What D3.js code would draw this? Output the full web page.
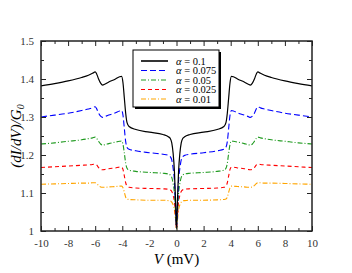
<!DOCTYPE html>
<html>
<head>
<meta charset="utf-8">
<script src="https://cdn.jsdelivr.net/npm/d3@7"></script>
<style>
  body { margin: 0; background: #fff; }
  svg text { font-family: "Liberation Serif", "DejaVu Serif", serif; }
</style>
</head>
<body>
<div id="chart"></div>
<script>
var width = 352;
var height = 273;

// bias voltage (mV)
var voltage = [-10, -9, -8, -7, -6.5, -6.2, -6.0, -5.9, -5.75, -5.6, -5.45, -5.3, -5.0, -4.5, -4.2, -4.05,
  -3.95, -3.85, -3.75, -3.65, -3.5, -3.0, -2.0, -1.0, -0.6, -0.45, -0.35, -0.25, -0.15, -0.08, -0.03, 0,
  0.03, 0.08, 0.15, 0.25, 0.35, 0.45, 0.6, 1.0, 2.0, 3.0, 3.5, 3.65, 3.75, 3.85, 3.95,
  4.05, 4.2, 4.5, 5.0, 5.3, 5.45, 5.6, 5.75, 5.9, 6.0, 6.2, 6.5, 7, 8, 9, 10];

var g010 = [1.382, 1.388, 1.395, 1.404, 1.410, 1.415, 1.419, 1.414, 1.400, 1.389, 1.384, 1.386, 1.392, 1.400, 1.406, 1.407,
  1.390, 1.350, 1.310, 1.285, 1.275, 1.267, 1.260, 1.254, 1.248, 1.243, 1.232, 1.205, 1.155, 1.090, 1.035, 1.008,
  1.035, 1.090, 1.155, 1.205, 1.232, 1.243, 1.248, 1.254, 1.260, 1.267, 1.275, 1.285, 1.310, 1.350, 1.390,
  1.407, 1.406, 1.400, 1.392, 1.386, 1.384, 1.389, 1.400, 1.414, 1.419, 1.415, 1.410, 1.404, 1.395, 1.388, 1.382];

var g0075 = [1.300, 1.305, 1.310, 1.317, 1.321, 1.324, 1.327, 1.322, 1.310, 1.302, 1.299, 1.301, 1.305, 1.311, 1.316, 1.317,
  1.305, 1.270, 1.235, 1.220, 1.215, 1.211, 1.206, 1.202, 1.199, 1.195, 1.187, 1.165, 1.130, 1.072, 1.028, 1.008,
  1.028, 1.072, 1.130, 1.165, 1.187, 1.195, 1.199, 1.202, 1.206, 1.211, 1.215, 1.220, 1.235, 1.270, 1.305,
  1.317, 1.316, 1.311, 1.305, 1.301, 1.299, 1.302, 1.310, 1.322, 1.327, 1.324, 1.321, 1.317, 1.310, 1.305, 1.300];

var g005 = [1.229, 1.232, 1.236, 1.240, 1.243, 1.245, 1.247, 1.244, 1.236, 1.229, 1.226, 1.227, 1.230, 1.234, 1.236, 1.237,
  1.228, 1.205, 1.178, 1.165, 1.160, 1.157, 1.154, 1.152, 1.150, 1.147, 1.141, 1.125, 1.098, 1.055, 1.022, 1.006,
  1.022, 1.055, 1.098, 1.125, 1.141, 1.147, 1.150, 1.152, 1.154, 1.157, 1.160, 1.165, 1.178, 1.205, 1.228,
  1.237, 1.236, 1.234, 1.230, 1.227, 1.226, 1.229, 1.236, 1.244, 1.247, 1.245, 1.243, 1.240, 1.236, 1.232, 1.229];

var g0025 = [1.167, 1.169, 1.171, 1.173, 1.174, 1.175, 1.176, 1.174, 1.167, 1.162, 1.161, 1.162, 1.164, 1.166, 1.168, 1.168,
  1.162, 1.145, 1.127, 1.118, 1.115, 1.113, 1.112, 1.111, 1.110, 1.108, 1.104, 1.094, 1.075, 1.042, 1.017, 1.005,
  1.017, 1.042, 1.075, 1.094, 1.104, 1.108, 1.110, 1.111, 1.112, 1.113, 1.115, 1.118, 1.127, 1.145, 1.162,
  1.168, 1.168, 1.166, 1.164, 1.162, 1.161, 1.162, 1.167, 1.174, 1.176, 1.175, 1.174, 1.173, 1.171, 1.169, 1.167];

var g001 = [1.123, 1.124, 1.125, 1.126, 1.126, 1.127, 1.127, 1.125, 1.120, 1.116, 1.115, 1.115, 1.116, 1.117, 1.118, 1.118,
  1.114, 1.102, 1.089, 1.084, 1.083, 1.082, 1.081, 1.081, 1.080, 1.079, 1.076, 1.069, 1.055, 1.031, 1.013, 1.004,
  1.013, 1.031, 1.055, 1.069, 1.076, 1.079, 1.080, 1.081, 1.081, 1.082, 1.083, 1.084, 1.089, 1.102, 1.114,
  1.118, 1.118, 1.117, 1.116, 1.115, 1.115, 1.116, 1.120, 1.125, 1.127, 1.127, 1.126, 1.126, 1.125, 1.124, 1.123];

var alphaLabels = ["0.1", "0.075", "0.05", "0.025", "0.01"];
var xTicks = [-10, -8, -6, -4, -2, 0, 2, 4, 6, 8, 10];
var yTicks = [1, 1.1, 1.2, 1.3, 1.4, 1.5];
var yTickLabels = ["1", "1.1", "1.2", "1.3", "1.4", "1.5"];

var seriesValues = [g010, g0075, g005, g0025, g001];
var colors = ["#000000", "#0000ff", "#1f9a1f", "#ff0000", "#ffa500"];
var dashes = [null, "6,3", "5,2,1,2", "4,3", "5,2,1,2"];

var pLeft = 41, pRight = 312, pTop = 41, pBottom = 231;

var xScale = d3.scaleLinear().domain([-10, 10]).range([pLeft, pRight]);
var yScale = d3.scaleLinear().domain([1, 1.5]).range([pBottom, pTop]);

var svg = d3.select("#chart").append("svg")
  .attr("width", width)
  .attr("height", height);

svg.append("clipPath").attr("id", "clip")
  .append("rect")
  .attr("x", pLeft).attr("y", pTop)
  .attr("width", pRight - pLeft).attr("height", pBottom - pTop);

var line = d3.line()
  .x(function(d) { return xScale(d[0]); })
  .y(function(d) { return yScale(d[1]); })
  .curve(d3.curveMonotoneX);

// draw the curves, smallest alpha first so black ends on top
var plot = svg.append("g").attr("clip-path", "url(#clip)");
for (var s = seriesValues.length - 1; s >= 0; --s) {
  var pts = voltage.map(function(v, i) { return [v, seriesValues[s][i]]; });
  plot.append("path")
    .attr("d", line(pts))
    .attr("fill", "none")
    .attr("stroke", colors[s])
    .attr("stroke-width", s == 0 ? 1.2 : 1.1)
    .attr("stroke-dasharray", dashes[s]);
}

// axes, ticks pointing inward
var xMinor = d3.range(-9, 10, 2);
var yMinor = [1.05, 1.15, 1.25, 1.35, 1.45];

function noDomain(g) { g.select(".domain").remove(); }

svg.append("g")
  .attr("transform", "translate(0," + pBottom + ")")
  .call(d3.axisBottom(xScale).tickValues(xTicks).tickSize(-5).tickPadding(8)
    .tickFormat(function(d) { return String(d); }))
  .call(function(g) {
    noDomain(g);
    g.selectAll("text").attr("font-size", 11).attr("fill", "#333");
  });
svg.append("g")
  .attr("transform", "translate(0," + pBottom + ")")
  .call(d3.axisBottom(xScale).tickValues(xMinor).tickSize(-3).tickFormat(""))
  .call(noDomain);

svg.append("g")
  .attr("transform", "translate(0," + pTop + ")")
  .call(d3.axisTop(xScale).tickValues(xTicks).tickSize(-5).tickFormat(""))
  .call(noDomain);
svg.append("g")
  .attr("transform", "translate(0," + pTop + ")")
  .call(d3.axisTop(xScale).tickValues(xMinor).tickSize(-3).tickFormat(""))
  .call(noDomain);

svg.append("g")
  .attr("transform", "translate(" + pLeft + ",0)")
  .call(d3.axisLeft(yScale).tickValues(yTicks).tickSize(-5).tickPadding(7)
    .tickFormat(function(d, i) { return yTickLabels[i]; }))
  .call(function(g) {
    noDomain(g);
    g.selectAll("text").attr("font-size", 11).attr("fill", "#333");
  });
svg.append("g")
  .attr("transform", "translate(" + pLeft + ",0)")
  .call(d3.axisLeft(yScale).tickValues(yMinor).tickSize(-3).tickFormat(""))
  .call(noDomain);

svg.append("g")
  .attr("transform", "translate(" + pRight + ",0)")
  .call(d3.axisRight(yScale).tickValues(yTicks).tickSize(-5).tickFormat(""))
  .call(noDomain);
svg.append("g")
  .attr("transform", "translate(" + pRight + ",0)")
  .call(d3.axisRight(yScale).tickValues(yMinor).tickSize(-3).tickFormat(""))
  .call(noDomain);

svg.selectAll(".tick line").attr("stroke", "#222");

// frame
svg.append("rect")
  .attr("x", pLeft).attr("y", pTop)
  .attr("width", pRight - pLeft).attr("height", pBottom - pTop)
  .attr("fill", "none")
  .attr("stroke", "#222")
  .attr("stroke-width", 1.5);

// axis titles
var yLab = svg.append("text")
  .attr("transform", "translate(21," + ((pTop + pBottom) / 2) + ") rotate(-90)")
  .attr("text-anchor", "middle")
  .attr("font-size", 15)
  .attr("font-style", "italic");
yLab.append("tspan").text("(dI/dV)/G");
yLab.append("tspan").attr("font-size", 10).attr("dy", 3).text("0");

var xLab = svg.append("text")
  .attr("x", (pLeft + pRight) / 2)
  .attr("y", 264)
  .attr("text-anchor", "middle")
  .attr("font-size", 15);
xLab.append("tspan").attr("font-style", "italic").text("V");
xLab.append("tspan").text(" (mV)");

// legend with drop shadow
var lx = 133, ly = 50, lw = 86, lh = 57;
svg.append("rect")
  .attr("x", lx + 2).attr("y", ly + 2)
  .attr("width", lw).attr("height", lh)
  .attr("fill", "#000");
svg.append("rect")
  .attr("x", lx).attr("y", ly)
  .attr("width", lw).attr("height", lh)
  .attr("fill", "#fff")
  .attr("stroke", "#000")
  .attr("stroke-width", 1);

var rowY = d3.scaleLinear().domain([0, 4]).range([61, 99]);
alphaLabels.forEach(function(a, i) {
  svg.append("line")
    .attr("x1", 141).attr("x2", 168)
    .attr("y1", rowY(i)).attr("y2", rowY(i))
    .attr("stroke", colors[i])
    .attr("stroke-width", i == 0 ? 1.6 : 1.1)
    .attr("stroke-dasharray", dashes[i]);
  var t = svg.append("text")
    .attr("x", 176).attr("y", rowY(i) + 3.5)
    .attr("font-size", 10.5);
  t.append("tspan").attr("font-style", "italic").text("α");
  t.append("tspan").text(" = " + a);
});
</script>
</body>
</html>
